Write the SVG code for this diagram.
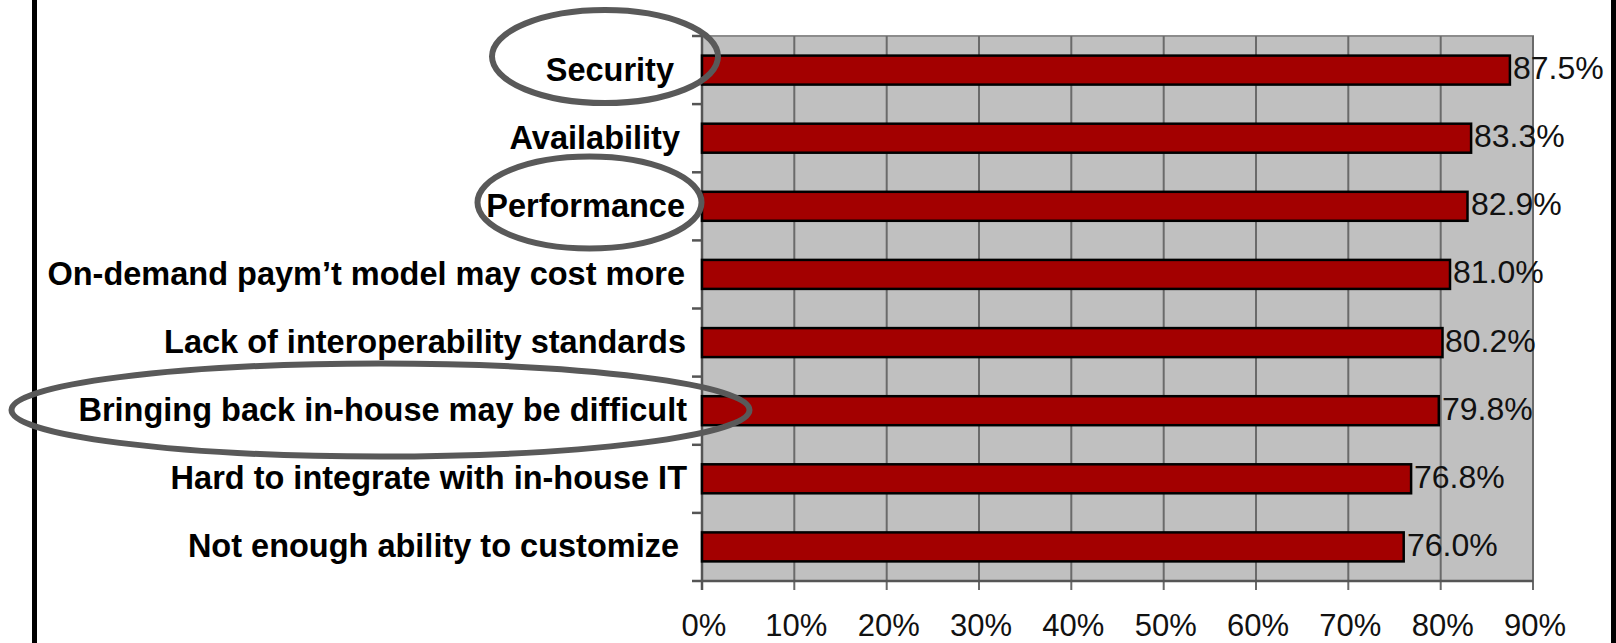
<svg xmlns="http://www.w3.org/2000/svg" width="1616" height="643" viewBox="0 0 1616 643">
<style>
.cat{font-family:"Liberation Sans",Arial,sans-serif;font-weight:bold;font-size:32.5px;fill:#000;text-anchor:end}
.val{font-family:"Liberation Sans",Arial,sans-serif;font-size:32px;fill:#111}
.tick{font-family:"Liberation Sans",Arial,sans-serif;font-size:31px;fill:#111;text-anchor:middle}
.bar{fill:#A30000;stroke:#000;stroke-width:2.5}
.grid{stroke:#6a6a6a;stroke-width:2}
.ring{fill:none;stroke:#595959;stroke-width:6}
</style>
<rect x="0" y="0" width="1616" height="643" fill="#fff"/>
<rect x="32" y="0" width="5" height="643" fill="#000"/>
<rect x="1611" y="0" width="5" height="643" fill="#000"/>
<g id="plot">
<rect x="702" y="36" width="831" height="545" fill="#C0C0C0" stroke="#8C8C8C" stroke-width="2"/>
<g class="grid">
<line x1="794.3" y1="36" x2="794.3" y2="590"/>
<line x1="886.7" y1="36" x2="886.7" y2="590"/>
<line x1="979" y1="36" x2="979" y2="590"/>
<line x1="1071.3" y1="36" x2="1071.3" y2="590"/>
<line x1="1163.7" y1="36" x2="1163.7" y2="590"/>
<line x1="1256" y1="36" x2="1256" y2="590"/>
<line x1="1348.3" y1="36" x2="1348.3" y2="590"/>
<line x1="1440.7" y1="36" x2="1440.7" y2="590"/>
<line x1="1533" y1="36" x2="1533" y2="590"/>
</g>
<g stroke="#555" stroke-width="2.5">
<line x1="702" y1="36" x2="702" y2="590"/>
<line x1="692" y1="581" x2="1533" y2="581"/>
<line x1="692" y1="36" x2="702" y2="36"/>
<line x1="692" y1="104.1" x2="702" y2="104.1"/>
<line x1="692" y1="172.3" x2="702" y2="172.3"/>
<line x1="692" y1="240.4" x2="702" y2="240.4"/>
<line x1="692" y1="308.5" x2="702" y2="308.5"/>
<line x1="692" y1="376.6" x2="702" y2="376.6"/>
<line x1="692" y1="444.8" x2="702" y2="444.8"/>
<line x1="692" y1="512.9" x2="702" y2="512.9"/>
</g>
</g>
<g id="bars">
<rect class="bar" x="702" y="55.6" width="807.9" height="29"/>
<rect class="bar" x="702" y="123.7" width="769.1" height="29"/>
<rect class="bar" x="702" y="191.8" width="765.5" height="29"/>
<rect class="bar" x="702" y="259.9" width="748" height="29"/>
<rect class="bar" x="702" y="328.1" width="740.5" height="29"/>
<rect class="bar" x="702" y="396.2" width="736.8" height="29"/>
<rect class="bar" x="702" y="464.3" width="709.1" height="29"/>
<rect class="bar" x="702" y="532.4" width="701.7" height="29"/>
</g>
<g id="values">
<text class="val" x="1513" y="79">87.5%</text>
<text class="val" x="1474" y="147.1">83.3%</text>
<text class="val" x="1471" y="215.2">82.9%</text>
<text class="val" x="1453" y="283.3">81.0%</text>
<text class="val" x="1445" y="351.5">80.2%</text>
<text class="val" x="1442" y="419.6">79.8%</text>
<text class="val" x="1414" y="487.7">76.8%</text>
<text class="val" x="1407" y="555.8">76.0%</text>
</g>
<g id="categories">
<text class="cat" x="674" y="80.6">Security</text>
<text class="cat" x="680" y="148.7">Availability</text>
<text class="cat" x="685" y="216.8">Performance</text>
<text class="cat" x="685" y="284.9">On-demand paym’t model may cost more</text>
<text class="cat" x="686" y="353.1">Lack of interoperability standards</text>
<text class="cat" x="687" y="421.2">Bringing back in-house may be difficult</text>
<text class="cat" x="687" y="489.3">Hard to integrate with in-house IT</text>
<text class="cat" x="679" y="557.4">Not enough ability to customize</text>
</g>
<g id="axis-labels">
<text class="tick" x="704" y="636">0%</text>
<text class="tick" x="796.3" y="636">10%</text>
<text class="tick" x="888.7" y="636">20%</text>
<text class="tick" x="981" y="636">30%</text>
<text class="tick" x="1073.3" y="636">40%</text>
<text class="tick" x="1165.7" y="636">50%</text>
<text class="tick" x="1258" y="636">60%</text>
<text class="tick" x="1350.3" y="636">70%</text>
<text class="tick" x="1442.7" y="636">80%</text>
<text class="tick" x="1535" y="636">90%</text>
</g>
<g id="highlights">
<ellipse id="ring-security" class="ring" cx="605" cy="56.5" rx="113" ry="46.5"/>
<ellipse id="ring-performance" class="ring" cx="589.5" cy="202.5" rx="112" ry="46"/>
<ellipse id="ring-bringing" class="ring" cx="380.5" cy="410" rx="369" ry="46.5"/>
</g>
</svg>
